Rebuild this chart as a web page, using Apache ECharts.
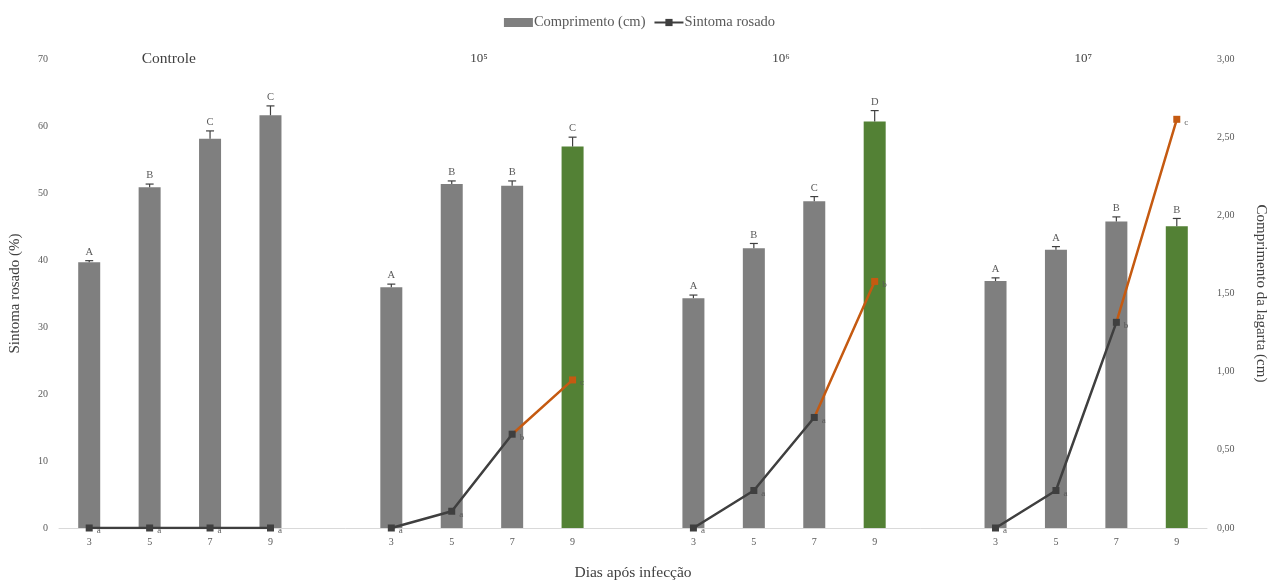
<!DOCTYPE html>
<html>
<head>
<meta charset="utf-8">
<script src="https://cdn.jsdelivr.net/npm/echarts@6/dist/echarts.min.js"></script>
<style>html,body{margin:0;padding:0;background:#fff}#c{width:1279px;height:586px}</style>
</head>
<body>
<div id="c"></div>
<script>
// ---- data ----
const groups = ['Controle', '10⁵', '10⁶', '10⁷'];
const days = ['3', '5', '7', '9'];
const comprimento = [
  [1.70, 2.18, 2.49, 2.64],
  [1.54, 2.20, 2.19, 2.44],
  [1.47, 1.79, 2.09, 2.60],
  [1.58, 1.78, 1.96, 1.93]
];
const comprimentoErr = [
  [0.01, 0.02, 0.05, 0.06],
  [0.02, 0.02, 0.03, 0.06],
  [0.02, 0.03, 0.03, 0.07],
  [0.02, 0.02, 0.03, 0.05]
];
const comprimentoLetters = [
  ['A', 'B', 'C', 'C'],
  ['A', 'B', 'B', 'C'],
  ['A', 'B', 'C', 'D'],
  ['A', 'A', 'B', 'B']
];
const sintoma = [
  [0, 0, 0, 0],
  [0, 2.5, 14.0, 22.1],
  [0, 5.6, 16.5, 36.8],
  [0, 5.6, 30.7, 61.0]
];
const sintomaLetters = [
  ['a', 'a', 'a', 'a'],
  ['a', 'a', 'b', 'c'],
  ['a', 'a', 'a', 'b'],
  ['a', 'a', 'b', 'c']
];
const leftTicks = {min: 0, max: 70, interval: 10};
const rightTicks = {min: 0, max: 3, interval: 0.5};

// ---- build category layout (one blank slot between groups) ----
const GAP = 1;
const cats = [];
const barData = [];
const errData = [];
const errLetters = [];
const darkLine = [];
const orangeLine = [];
const lineLabels = [];
const GRAY = '#7f7f7f', GREEN = '#538135', DARK = '#3f3f3f', ORANGE = '#c55a11';
groups.forEach((g, gi) => {
  if (gi > 0) {
    for (let k = 0; k < GAP; k++) {
      cats.push('');
      barData.push(null);
      darkLine.push(null);
      orangeLine.push(null);
      lineLabels.push('');
    }
  }
  days.forEach((d, di) => {
    const idx = cats.length;
    cats.push(d);
    const infected = gi > 0;
    const green = infected && di === 3;
    barData.push({value: comprimento[gi][di], itemStyle: {color: green ? GREEN : GRAY}});
    errData.push([idx, comprimento[gi][di], comprimentoErr[gi][di]]);
    errLetters.push(comprimentoLetters[gi][di]);
    lineLabels.push(sintomaLetters[gi][di]);
    if (infected && di === 3) {
      darkLine.push(null);
      orangeLine.push({value: sintoma[gi][di], symbol: 'rect', symbolSize: 7,
        label: {show: true, formatter: sintomaLetters[gi][di]}});
    } else if (infected && di === 2) {
      darkLine.push(sintoma[gi][di]);
      orangeLine.push({value: sintoma[gi][di], symbol: 'none', label: {show: false}});
    } else {
      darkLine.push(sintoma[gi][di]);
      orangeLine.push(null);
    }
  });
});

const FONT = '"Liberation Serif", "DejaVu Serif", serif';
const TXT = '#595959';

const chart = echarts.init(document.getElementById('c'), null, {renderer: 'canvas'});
const option = {
  animation: false,
  textStyle: {fontFamily: FONT},
  legend: {
    top: 10, left: 'center',
    data: [
      {name: 'Comprimento (cm)', icon: 'rect'},
      {name: 'Sintoma rosado'}
    ],
    itemWidth: 29, itemHeight: 9, itemGap: 8,
    textStyle: {fontFamily: FONT, fontSize: 14.5, color: TXT, padding: [0, 0, 0, -4]}
  },
  grid: {left: 57, right: 72, top: 59, bottom: 52, containLabel: false},
  xAxis: {
    type: 'category', data: cats,
    axisLine: {lineStyle: {color: '#d9d9d9', width: 1}},
    axisTick: {show: false},
    axisLabel: {color: TXT, fontSize: 10, fontFamily: FONT, margin: 9, interval: 0},
    name: 'Dias após infecção', nameLocation: 'middle', nameGap: 37,
    nameTextStyle: {color: '#404040', fontSize: 15.5, fontFamily: FONT}
  },
  yAxis: [
    {
      type: 'value', min: leftTicks.min, max: leftTicks.max, interval: leftTicks.interval,
      splitLine: {show: false}, axisLine: {show: false}, axisTick: {show: false},
      axisLabel: {color: TXT, fontSize: 10, fontFamily: FONT, margin: 11},
      name: 'Sintoma rosado (%)', nameLocation: 'middle', nameGap: 36, nameRotate: 90,
      nameTextStyle: {color: '#404040', fontSize: 15, fontFamily: FONT}
    },
    {
      type: 'value', min: rightTicks.min, max: rightTicks.max, interval: rightTicks.interval,
      splitLine: {show: false}, axisLine: {show: false}, axisTick: {show: false},
      axisLabel: {color: TXT, fontSize: 10, fontFamily: FONT, margin: 10,
        formatter: v => v.toFixed(2).replace('.', ',')},
      name: 'Comprimento da lagarta (cm)', nameLocation: 'middle', nameGap: 46, nameRotate: -90,
      nameTextStyle: {color: '#404040', fontSize: 15, fontFamily: FONT}
    }
  ],
  series: [
    {
      name: 'Comprimento (cm)', type: 'bar', yAxisIndex: 1, data: barData,
      barWidth: 22, itemStyle: {color: GRAY}, z: 2
    },
    {
      name: 'errorbars', type: 'custom', yAxisIndex: 1, data: errData, z: 3,
      renderItem: function (params, api) {
        const x = api.value(0), m = api.value(1), e = api.value(2);
        const base = api.coord([x, m]);
        const top = api.coord([x, m + e]);
        const cap = 4;
        return {
          type: 'group',
          children: [
            {type: 'line', shape: {x1: base[0], y1: base[1], x2: top[0], y2: top[1]},
              style: {stroke: '#404040', lineWidth: 1.2}},
            {type: 'line', shape: {x1: top[0] - cap, y1: top[1], x2: top[0] + cap, y2: top[1]},
              style: {stroke: '#404040', lineWidth: 1.2}},
            {type: 'text', x: top[0], y: top[1] - 3,
              style: {text: errLetters[params.dataIndex], fill: TXT, fontSize: 10.5,
                fontFamily: FONT, align: 'center', verticalAlign: 'bottom'}}
          ]
        };
      }
    },
    {
      name: 'orange', type: 'line', yAxisIndex: 0, data: orangeLine, z: 4,
      connectNulls: false, symbol: 'rect', symbolSize: 7,
      lineStyle: {color: ORANGE, width: 2.5}, itemStyle: {color: ORANGE},
      label: {show: false, position: 'right', distance: 4, offset: [0, 3], color: TXT, fontSize: 9, fontFamily: FONT}
    },
    {
      name: 'Sintoma rosado', type: 'line', yAxisIndex: 0, data: darkLine, z: 5,
      connectNulls: false, symbol: 'rect', symbolSize: 7,
      lineStyle: {color: DARK, width: 2.5}, itemStyle: {color: DARK},
      label: {show: true, position: 'right', distance: 4, offset: [0, 3], color: TXT, fontSize: 9, fontFamily: FONT,
        formatter: p => lineLabels[p.dataIndex]}
    }
  ]
};
chart.setOption(option);

// group titles, centred over each group's bars
const titleEls = groups.map((g, gi) => {
  const start = gi * (days.length + GAP);
  const p1 = chart.convertToPixel({xAxisIndex: 0}, start + 1);
  const p2 = chart.convertToPixel({xAxisIndex: 0}, start + 2);
  const cx = (p1 + p2) / 2 - (gi === 0 ? 11 : 3);
  return {
    type: 'text', x: cx, y: 59,
    style: {text: g, fill: '#404040', fontSize: gi === 0 ? 15.5 : 13, fontFamily: FONT,
      align: 'center', verticalAlign: 'middle'}
  };
});
chart.setOption({graphic: titleEls});
</script>
</body>
</html>
